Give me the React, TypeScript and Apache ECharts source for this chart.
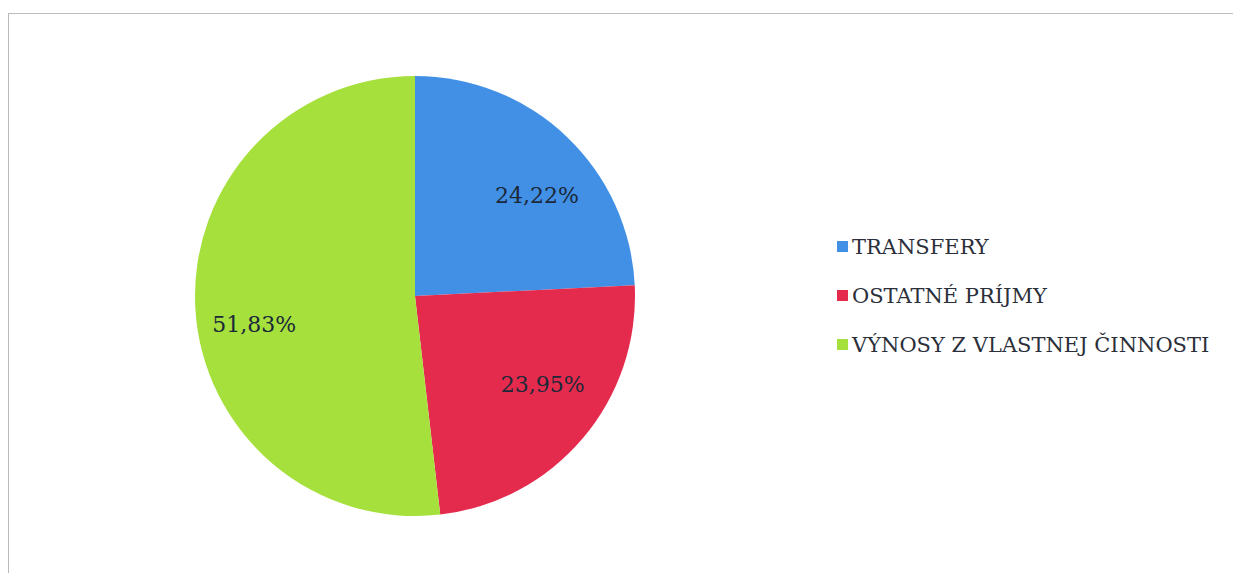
import React, { useEffect, useRef } from "react";
import * as echarts from "echarts";

const categories = ["TRANSFERY", "OSTATNÉ PRÍJMY", "VÝNOSY Z VLASTNEJ ČINNOSTI"];
const shares = [24.22, 23.95, 51.83];
const colors = ["#4290e6", "#e42b4d", "#a6e03d"];
// small label nudges (px) to mimic the original best-fit label placement
const labelNudgeX = [11, 5, 0];
const labelNudgeY = [16, -16, 19];

export default function App() {
  const ref = useRef<HTMLDivElement>(null);
  useEffect(() => {
    if (!ref.current) return;
    const chart = echarts.init(ref.current, null, { renderer: "svg" });
    const data = categories.map((name, i) => ({ name, value: shares[i] }));
    const fmt = (p: any) => p.value.toFixed(2).replace(".", ",") + "%";
    chart.setOption({
      animation: false,
      backgroundColor: "#ffffff",
      color: colors,
      graphic: [
        {
          type: "rect",
          shape: { x: 8.5, y: 13.5, width: 1300, height: 700 },
          style: { fill: "none", stroke: "#777777", lineWidth: 1, lineDash: [1, 1] },
          silent: true,
        },
      ],
      legend: {
        orient: "vertical",
        left: 832,
        top: 231,
        itemWidth: 11,
        itemHeight: 11,
        itemGap: 28,
        icon: "rect",
        textStyle: { fontFamily: "DejaVu Serif", fontSize: 21, color: "#2b2f3a", padding: [0, 0, 0, -1] },
        data: categories,
      },
      series: [
        {
          type: "pie",
          center: [415, 296],
          radius: 220,
          startAngle: 90,
          clockwise: true,
          label: { show: false },
          labelLine: { show: false },
          itemStyle: { borderWidth: 0 },
          data,
        },
        {
          type: "pie",
          center: [415, 296],
          radius: 316,
          startAngle: 90,
          clockwise: true,
          silent: true,
          itemStyle: { color: "rgba(0,0,0,0)" },
          label: {
            show: true,
            position: "inside",
            formatter: fmt,
            fontFamily: "DejaVu Serif",
            fontSize: 22,
            color: "#1b2838",
          },
          labelLayout: (p: any) => ({ dx: labelNudgeX[p.dataIndex], dy: labelNudgeY[p.dataIndex] }),
          labelLine: { show: false },
          data,
        },
      ],
    });
    return () => chart.dispose();
  }, []);
  return (
    <div
      ref={ref}
      style={{ position: "fixed", left: 0, top: 0, width: 1233, height: 573 }}
    />
  );
}
